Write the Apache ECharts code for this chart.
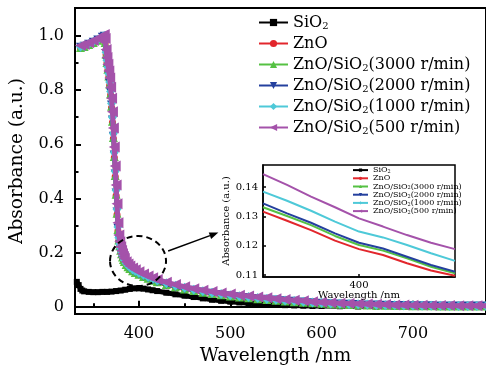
<!DOCTYPE html>
<html>
<head>
<meta charset="utf-8">
<script src="https://cdn.jsdelivr.net/npm/echarts@6/dist/echarts.min.js"></script>
<style>
  html, body { margin: 0; padding: 0; background: #fff; }
  #chart { width: 486px; height: 371px; }
</style>
</head>
<body>
<div id="chart"></div>
<script>
// Wavelength grid (nm) shared by the ZnO-containing samples
const wl = [336, 340, 345, 350, 355, 360, 362, 363, 364, 365, 366, 367, 368, 369, 370,
  371, 372, 373, 374, 375, 376, 377, 378, 379, 380, 381, 382, 383, 384, 386, 388, 390,
  393, 396, 400, 405, 410, 415, 420, 430, 440, 450, 460, 470, 480, 490, 500, 510, 520,
  530, 540, 550, 560, 570, 580, 590, 600, 610, 620, 630, 640, 650, 660, 670, 680, 690,
  700, 710, 720, 730, 740, 750, 760, 770, 780];

const zno = [0.955, 0.959, 0.966, 0.974, 0.982, 0.992, 0.996, 0.974, 0.93, 0.90, 0.874,
  0.848, 0.818, 0.782, 0.735, 0.68, 0.62, 0.55, 0.48, 0.41, 0.34, 0.28, 0.244, 0.222,
  0.206, 0.193, 0.181, 0.172, 0.165, 0.154, 0.146, 0.139, 0.131, 0.125, 0.118, 0.111,
  0.104, 0.097, 0.091, 0.081, 0.073, 0.065, 0.059, 0.053, 0.048, 0.043, 0.039, 0.035,
  0.032, 0.029, 0.026, 0.023, 0.021, 0.018, 0.016, 0.014, 0.012, 0.010, 0.009, 0.008,
  0.007, 0.0065, 0.006, 0.005, 0.0045, 0.004, 0.004, 0.0035, 0.003, 0.003, 0.0025,
  0.0025, 0.002, 0.002, 0.002];

const zs3000 = [0.957, 0.961, 0.968, 0.976, 0.984, 0.994, 0.998, 0.976, 0.932, 0.902,
  0.877, 0.852, 0.822, 0.786, 0.74, 0.685, 0.625, 0.555, 0.485, 0.415, 0.345, 0.285,
  0.247, 0.225, 0.209, 0.196, 0.184, 0.175, 0.167, 0.156, 0.148, 0.141, 0.133, 0.127,
  0.120, 0.112, 0.105, 0.098, 0.092, 0.082, 0.074, 0.066, 0.060, 0.054, 0.049, 0.044,
  0.040, 0.036, 0.033, 0.030, 0.027, 0.024, 0.021, 0.019, 0.017, 0.015, 0.013, 0.011,
  0.0095, 0.0085, 0.0075, 0.007, 0.006, 0.0055, 0.005, 0.0045, 0.004, 0.0035, 0.0035,
  0.003, 0.003, 0.0025, 0.0025, 0.0025, 0.0025];

const zs2000 = [0.958, 0.962, 0.969, 0.977, 0.985, 0.995, 0.999, 0.978, 0.935, 0.905,
  0.88, 0.855, 0.825, 0.79, 0.745, 0.69, 0.63, 0.56, 0.49, 0.42, 0.35, 0.29, 0.25,
  0.228, 0.211, 0.198, 0.186, 0.177, 0.169, 0.157, 0.149, 0.142, 0.134, 0.128, 0.121,
  0.113, 0.106, 0.099, 0.093, 0.083, 0.075, 0.067, 0.061, 0.055, 0.05, 0.045, 0.041,
  0.037, 0.034, 0.031, 0.028, 0.025, 0.022, 0.02, 0.018, 0.015, 0.013, 0.011, 0.010,
  0.009, 0.008, 0.007, 0.0065, 0.006, 0.005, 0.0045, 0.004, 0.004, 0.0035, 0.003,
  0.003, 0.003, 0.0025, 0.0025, 0.0025];

const zs1000 = [0.96, 0.963, 0.97, 0.978, 0.986, 0.996, 1.0, 0.98, 0.94, 0.91, 0.885,
  0.86, 0.83, 0.795, 0.75, 0.70, 0.64, 0.57, 0.50, 0.43, 0.36, 0.295, 0.255, 0.232,
  0.215, 0.202, 0.19, 0.181, 0.173, 0.161, 0.153, 0.146, 0.138, 0.132, 0.125, 0.117,
  0.110, 0.103, 0.097, 0.087, 0.078, 0.070, 0.063, 0.057, 0.052, 0.047, 0.043, 0.039,
  0.036, 0.032, 0.029, 0.026, 0.023, 0.021, 0.019, 0.016, 0.014, 0.012, 0.011, 0.010,
  0.009, 0.008, 0.007, 0.006, 0.0055, 0.005, 0.0045, 0.004, 0.004, 0.0035, 0.003,
  0.003, 0.003, 0.003, 0.003];

const zs500 = [0.965, 0.968, 0.975, 0.983, 0.990, 1.000, 1.005, 0.990, 0.950, 0.920,
  0.895, 0.870, 0.845, 0.810, 0.770, 0.720, 0.660, 0.590, 0.520, 0.450, 0.380, 0.310,
  0.265, 0.240, 0.222, 0.208, 0.196, 0.186, 0.178, 0.166, 0.158, 0.151, 0.143, 0.137,
  0.129, 0.121, 0.114, 0.107, 0.101, 0.091, 0.082, 0.074, 0.067, 0.061, 0.056, 0.051,
  0.047, 0.043, 0.040, 0.036, 0.033, 0.030, 0.027, 0.024, 0.022, 0.019, 0.017, 0.015,
  0.013, 0.012, 0.011, 0.010, 0.009, 0.008, 0.007, 0.0065, 0.006, 0.0055, 0.005, 0.005,
  0.0045, 0.004, 0.004, 0.004, 0.004];

// Bare SiO2 film
const sio2Wl = [332, 334, 336, 338, 340, 345, 350, 355, 360, 365, 370, 375, 380, 385,
  390, 395, 400, 405, 410, 415, 420, 430, 440, 450, 460, 470, 480, 490, 500, 510, 520,
  530, 540, 550, 560, 570, 580, 590, 600, 620, 640, 660, 680, 700, 720, 740, 760, 780];
const sio2 = [0.092, 0.08, 0.066, 0.06, 0.057, 0.055, 0.054, 0.054, 0.055, 0.055, 0.056,
  0.058, 0.06, 0.063, 0.066, 0.068, 0.068, 0.067, 0.064, 0.061, 0.058, 0.052, 0.046,
  0.041, 0.036, 0.031, 0.026, 0.022, 0.019, 0.016, 0.013, 0.011, 0.009, 0.008, 0.006,
  0.005, 0.004, 0.003, 0.003, 0.002, 0.001, 0.001, 0.0, 0.0, 0.0, 0.0, 0.0, 0.0];

// Enlarged view around 400 nm
const insetWl = [390, 392.5, 395, 397.5, 400, 402.5, 405, 407.5, 410];
const insetZno = [0.1316, 0.1285, 0.1253, 0.1217, 0.1188, 0.1168, 0.1140, 0.1115, 0.1097];
const inset3000 = [0.1331, 0.1301, 0.1270, 0.1233, 0.1202, 0.1183, 0.1157, 0.1128, 0.1106];
const inset2000 = [0.1344, 0.1310, 0.1278, 0.1242, 0.1210, 0.1190, 0.1162, 0.1134, 0.1111];
const inset1000 = [0.1384, 0.1353, 0.1319, 0.1282, 0.1248, 0.1228, 0.1202, 0.1174, 0.1148];
const inset500 = [0.1444, 0.1407, 0.1367, 0.1331, 0.1293, 0.1265, 0.1236, 0.1210, 0.1188];

// Tick positions
const xMajor = [400, 500, 600, 700];
const xMinor = [350, 450, 550, 650, 750];
const yMajor = [0, 0.2, 0.4, 0.6, 0.8, 1.0];
const yMinor = [0.1, 0.3, 0.5, 0.7, 0.9];
const insetYTicks = [0.11, 0.12, 0.13, 0.14];
const insetXTicks = [400];

const names = ['SiO2', 'ZnO', 'ZnO/SiO2(3000 r/min)', 'ZnO/SiO2(2000 r/min)',
  'ZnO/SiO2(1000 r/min)', 'ZnO/SiO2(500 r/min)'];
const colors = ['#000000', '#e2262c', '#55c143', '#24409e', '#4ec9d8', '#a452aa'];
const symbols = ['rect', 'circle', 'triangle', 'path://M0,0L10,0L5,9Z', 'diamond',
  'path://M0,5L9,0L9,10Z'];
const symbolSizes = [6, 7, 9, 9, [9, 10], 11];
const lineWidths = [5, 4, 4, 4, 4, 5];

const FONT = 'DejaVu Serif';
const pairs = (xs, ys) => xs.map((x, i) => [x, ys[i]]);
const mainData = [pairs(sio2Wl, sio2), pairs(wl, zno), pairs(wl, zs3000),
  pairs(wl, zs2000), pairs(wl, zs1000), pairs(wl, zs500)];
const insetData = [null, pairs(insetWl, insetZno), pairs(insetWl, inset3000),
  pairs(insetWl, inset2000), pairs(insetWl, inset1000), pairs(insetWl, inset500)];

const chart = echarts.init(document.getElementById('chart'), null, { renderer: 'canvas' });

const subName = n => n.replace('SiO2', 'SiO{s|2}');

const series = [];
names.forEach((n, i) => {
  series.push({
    name: n, type: 'line', xAxisIndex: 0, yAxisIndex: 0,
    data: mainData[i], symbol: symbols[i], symbolSize: symbolSizes[i],
    showAllSymbol: true, color: colors[i],
    lineStyle: { width: lineWidths[i], color: colors[i] },
    itemStyle: { color: colors[i] }, z: 2 + i
  });
});
names.forEach((n, i) => {
  if (!insetData[i]) return;
  series.push({
    name: n, type: 'line', xAxisIndex: 2, yAxisIndex: 2,
    data: insetData[i], showSymbol: false, color: colors[i],
    lineStyle: { width: 2, color: colors[i] }, z: 20 + i
  });
});

const axisLine = { show: true, lineStyle: { color: '#000', width: 2 } };

chart.setOption({
  animation: false,
  backgroundColor: '#fff',
  grid: [
    { left: 74, right: -4, top: 8, bottom: 56, show: true, borderColor: '#000', borderWidth: 2 },
    { left: 263, top: 165, width: 192, height: 112, show: true, borderColor: '#000',
      borderWidth: 1.5, backgroundColor: '#fff', z: 10 }
  ],
  xAxis: [
    { type: 'value', gridIndex: 0, min: 330, max: 780, position: 'bottom',
      axisLine: axisLine, splitLine: { show: false },
      axisTick: { inside: true, length: 6, customValues: xMajor, lineStyle: { width: 2, color: '#000' } },
      axisLabel: { customValues: xMajor, margin: 12, color: '#000', fontFamily: FONT, fontSize: 16 },
      name: 'Wavelength /nm', nameLocation: 'middle', nameGap: 31,
      nameTextStyle: { color: '#000', fontFamily: FONT, fontSize: 18.5, padding: [0, 10, 0, 0] } },
    { type: 'value', gridIndex: 0, min: 330, max: 780, position: 'bottom',
      axisLine: { show: false }, splitLine: { show: false },
      axisTick: { inside: true, length: 3.5, customValues: xMinor, lineStyle: { width: 2, color: '#000' } },
      axisLabel: { show: false } },
    { type: 'value', gridIndex: 1, min: 390, max: 410,
      axisLine: { show: true, lineStyle: { color: '#000', width: 1.5 } }, splitLine: { show: false },
      axisTick: { inside: true, length: 3, customValues: insetXTicks, lineStyle: { width: 1.5, color: '#000' } },
      axisLabel: { customValues: insetXTicks, margin: 3, color: '#000', fontFamily: FONT, fontSize: 10 },
      name: 'Wavelength /nm', nameLocation: 'middle', nameGap: 12,
      nameTextStyle: { color: '#000', fontFamily: FONT, fontSize: 10 }, z: 11 }
  ],
  yAxis: [
    { type: 'value', gridIndex: 0, min: -0.027, max: 1.103, position: 'left',
      axisLine: axisLine, splitLine: { show: false },
      axisTick: { inside: true, length: 6, customValues: yMajor, lineStyle: { width: 2, color: '#000' } },
      axisLabel: { customValues: yMajor, margin: 11, color: '#000', fontFamily: FONT, fontSize: 16,
        formatter: v => (v === 0 ? '0' : v.toFixed(1)) },
      name: 'Absorbance (a.u.)', nameLocation: 'middle', nameGap: 48, nameRotate: 90,
      nameTextStyle: { color: '#000', fontFamily: FONT, fontSize: 18.5 } },
    { type: 'value', gridIndex: 0, min: -0.027, max: 1.103, position: 'left',
      axisLine: { show: false }, splitLine: { show: false },
      axisTick: { inside: true, length: 3.5, customValues: yMinor, lineStyle: { width: 2, color: '#000' } },
      axisLabel: { show: false } },
    { type: 'value', gridIndex: 1, min: 0.1093, max: 0.1475, position: 'left',
      axisLine: { show: true, lineStyle: { color: '#000', width: 1.5 } }, splitLine: { show: false },
      axisTick: { inside: true, length: 3, customValues: insetYTicks, lineStyle: { width: 1.5, color: '#000' } },
      axisLabel: { customValues: insetYTicks, margin: 5, color: '#000', fontFamily: FONT, fontSize: 10,
        formatter: v => v.toFixed(2) },
      name: 'Absorbance (a.u.)', nameLocation: 'middle', nameGap: 28, nameRotate: 90,
      nameTextStyle: { color: '#000', fontFamily: FONT, fontSize: 10 }, z: 11 }
  ],
  legend: [
    { data: names, orient: 'vertical', left: 258, top: 14, itemWidth: 29, itemHeight: 9,
      itemGap: 4, padding: 0, selectedMode: false, formatter: subName,
      lineStyle: { width: 2 },
      textStyle: { color: '#000', fontFamily: FONT, fontSize: 16, lineHeight: 17,
        rich: { s: { fontFamily: FONT, fontSize: 10, lineHeight: 10, verticalAlign: 'bottom', color: '#000' } } } },
    { data: names, orient: 'vertical', left: 352, top: 166, itemWidth: 15, itemHeight: 4,
      itemGap: 0, padding: 0, selectedMode: false, formatter: subName, z: 12,
      lineStyle: { width: 2 },
      textStyle: { color: '#000', fontFamily: FONT, fontSize: 8, lineHeight: 8.2,
        rich: { s: { fontFamily: FONT, fontSize: 5, lineHeight: 5, verticalAlign: 'bottom', color: '#000' } } } }
  ],
  series: series
});

// Dashed outline around the absorption edge and an arrow pointing to the enlarged view
const c = chart.convertToPixel({ gridIndex: 0 }, [399, 0.169]);
const a0 = chart.convertToPixel({ gridIndex: 0 }, [432, 0.206]);
const a1 = chart.convertToPixel({ gridIndex: 0 }, [487, 0.274]);
const ang = Math.atan2(a1[1] - a0[1], a1[0] - a0[0]);
const hl = 9, hw = 3.5;
const base = [a1[0] - hl * Math.cos(ang), a1[1] - hl * Math.sin(ang)];
const head = [
  a1,
  [base[0] + hw * Math.sin(ang), base[1] - hw * Math.cos(ang)],
  [base[0] - hw * Math.sin(ang), base[1] + hw * Math.cos(ang)]
];
chart.setOption({
  graphic: [
    { type: 'ellipse', shape: { cx: c[0], cy: c[1], rx: 28, ry: 25 }, z: 30,
      style: { fill: 'none', stroke: '#000', lineWidth: 2, lineDash: [6, 4] } },
    { type: 'line', shape: { x1: a0[0], y1: a0[1], x2: base[0], y2: base[1] }, z: 30,
      style: { stroke: '#000', lineWidth: 1.5 } },
    { type: 'polygon', shape: { points: head }, z: 30, style: { fill: '#000' } }
  ]
});
</script>
</body>
</html>
